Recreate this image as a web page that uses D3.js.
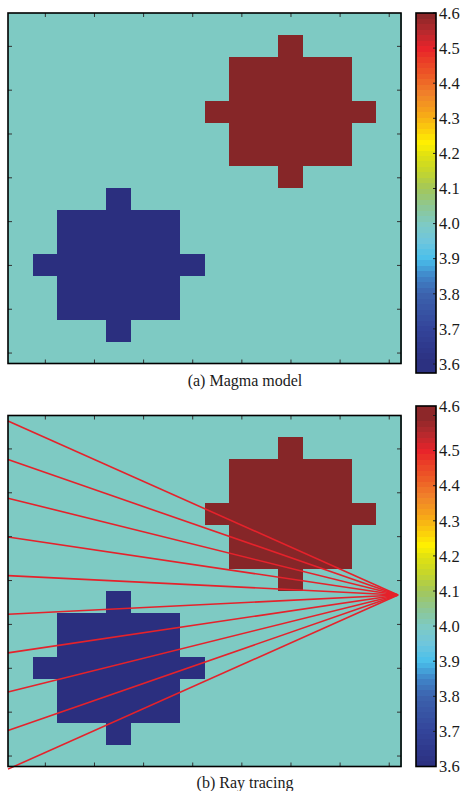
<!DOCTYPE html>
<html>
<head>
<meta charset="utf-8">
<script src="https://cdn.jsdelivr.net/npm/d3@7/dist/d3.min.js"></script>
<style>
  html, body { margin: 0; padding: 0; background: #ffffff; }
  svg { display: block; }
  text { font-family: "Liberation Serif", "Times New Roman", serif; fill: #1a1a1a; }
</style>
</head>
<body>
<svg id="fig" width="463" height="791"></svg>
<script>
// Velocity model on a 16 x 16 grid: '.' background, 'H' fast body, 'L' slow body
const modelRows = [
  "................",
  "...........H....",
  ".........HHHHH..",
  ".........HHHHH..",
  "........HHHHHHH.",
  ".........HHHHH..",
  ".........HHHHH..",
  "...........H....",
  "....L...........",
  "..LLLLL.........",
  "..LLLLL.........",
  ".LLLLLLL........",
  "..LLLLL.........",
  "..LLLLL.........",
  "....L...........",
  "................"
];
const cellValues = { ".": 4.0, "H": 4.6, "L": 3.6 };

// Axis ticks (grid indices) and colour bar ticks
const gridTicks = [2, 4, 6, 8, 10, 12, 14, 16];
const barTicks = [4.6, 4.5, 4.4, 4.3, 4.2, 4.1, 4.0, 3.9, 3.8, 3.7, 3.6];

// Rays: receivers along the left edge, one source at the right
const rayStartX = 0.5;
const rayStartY = [0.75, 2.51, 4.27, 6.04, 7.80, 9.56, 11.32, 13.10, 14.86, 16.62];
const sourcePoint = [16.38, 8.68];

const captions = ["(a) Magma model", "(b) Ray tracing"];

// Colour map stops (value -> colour)
const cmapValues = [3.6, 3.7, 3.8, 3.85, 3.9, 3.95, 4.0, 4.05, 4.1, 4.15, 4.2, 4.23, 4.27, 4.32, 4.37, 4.42, 4.47, 4.5, 4.55, 4.6];
const cmapColors = ["#2b2f7f", "#33449a", "#3c62ad", "#3f84c8", "#49bfeb", "#6fc6dd", "#7ecac3", "#8ec792", "#a3c75a", "#c5d62a", "#e2e210", "#fff200", "#fbcd0c", "#f6a21a", "#f0822a", "#ed5c26", "#ea3a27", "#e8232a", "#b42a2d", "#862628"];

const cmap = d3.scaleLinear().domain(cmapValues).range(cmapColors).clamp(true);

const svg = d3.select("#fig");

// Each colour bar is a little taller than its panel; the end labels sit at the bar ends
const panels = [
  { top: 13, bottom: 363.5, barTop: 13, barBottom: 373, scaleTop: 13, scaleBottom: 364, captionY: 386, rays: false, pinTop: false },
  { top: 415.5, bottom: 766.5, barTop: 406, barBottom: 766.5, scaleTop: 415.5, scaleBottom: 766.5, captionY: 788, rays: true, pinTop: true }
];

const left = 8, right = 401;
const barLeft = 416, barRight = 436;

panels.forEach((p, pi) => {
  const g = svg.append("g");
  const x = d3.scaleLinear().domain([0.5, 16.5]).range([left, right]);
  const y = d3.scaleLinear().domain([0.5, 16.5]).range([p.top, p.bottom]);

  // Model cells
  const cells = [];
  modelRows.forEach((row, r) => {
    row.split("").forEach((ch, c) => cells.push({ col: c + 1, row: r + 1, v: cellValues[ch] }));
  });
  g.append("g").selectAll("rect").data(cells).join("rect")
    .attr("x", d => x(d.col - 0.5))
    .attr("y", d => y(d.row - 0.5))
    .attr("width", d => x(d.col + 0.5) - x(d.col - 0.5) + 0.5)
    .attr("height", d => y(d.row + 0.5) - y(d.row - 0.5) + 0.5)
    .attr("fill", d => cmap(d.v))
    .attr("shape-rendering", "crispEdges");

  // Ray paths
  if (p.rays) {
    g.append("g").selectAll("line").data(rayStartY).join("line")
      .attr("x1", x(rayStartX)).attr("y1", d => y(d))
      .attr("x2", x(sourcePoint[0])).attr("y2", y(sourcePoint[1]))
      .attr("stroke", "#e5222b").attr("stroke-width", 1.6);
  }

  // Inward ticks on all four sides
  const tickLen = 4;
  const tickStyle = sel => {
    sel.select(".domain").remove();
    sel.selectAll(".tick line").attr("stroke", "#333").attr("stroke-width", 1);
    sel.selectAll(".tick text").remove();
  };
  g.append("g").attr("transform", `translate(0,${p.bottom})`)
    .call(d3.axisBottom(x).tickValues(gridTicks).tickSize(-tickLen)).call(tickStyle);
  g.append("g").attr("transform", `translate(0,${p.top})`)
    .call(d3.axisTop(x).tickValues(gridTicks).tickSize(-tickLen)).call(tickStyle);
  g.append("g").attr("transform", `translate(${left},0)`)
    .call(d3.axisLeft(y).tickValues(gridTicks).tickSize(-tickLen)).call(tickStyle);
  g.append("g").attr("transform", `translate(${right},0)`)
    .call(d3.axisRight(y).tickValues(gridTicks).tickSize(-tickLen)).call(tickStyle);

  // Frame
  g.append("rect")
    .attr("x", left).attr("y", p.top)
    .attr("width", right - left).attr("height", p.bottom - p.top)
    .attr("fill", "none").attr("stroke", "#000").attr("stroke-width", 1.6);

  // Colour bar
  const cb = d3.scaleLinear().domain([3.6, 4.6]).range([p.scaleBottom, p.scaleTop]);
  const nBands = 64;
  const step = (4.6 - 3.6) / nBands;
  const bands = d3.range(nBands).map(i => 3.6 + i * step);
  const bg = svg.append("g");
  // extension below/above the mapped range keeps the end colours
  bg.append("rect").attr("x", barLeft).attr("width", barRight - barLeft)
    .attr("y", cb(3.6)).attr("height", Math.max(0, p.barBottom - cb(3.6)))
    .attr("fill", cmap(3.6 + step / 2)).attr("shape-rendering", "crispEdges");
  bg.append("rect").attr("x", barLeft).attr("width", barRight - barLeft)
    .attr("y", p.barTop).attr("height", Math.max(0, cb(4.6) - p.barTop))
    .attr("fill", cmap(4.6 - step / 2)).attr("shape-rendering", "crispEdges");
  bg.selectAll("rect.band").data(bands).join("rect").attr("class", "band")
    .attr("x", barLeft).attr("width", barRight - barLeft)
    .attr("y", d => cb(d + step))
    .attr("height", d => cb(d) - cb(d + step) + 0.4)
    .attr("fill", d => cmap(d + step / 2))
    .attr("shape-rendering", "crispEdges");
  bg.selectAll("line.btick").data(barTicks).join("line").attr("class", "btick")
    .attr("x1", barRight - 3).attr("x2", barRight)
    .attr("y1", d => cb(d)).attr("y2", d => cb(d))
    .attr("stroke", "#222").attr("stroke-width", 1);
  bg.append("rect")
    .attr("x", barLeft).attr("y", p.barTop)
    .attr("width", barRight - barLeft).attr("height", p.barBottom - p.barTop)
    .attr("fill", "none").attr("stroke", "#000").attr("stroke-width", 1.6);
  bg.selectAll("text").data(barTicks).join("text")
    .attr("x", barRight + 3)
    .attr("y", d => (p.pinTop && d === 4.6) ? p.barTop : cb(d))
    .attr("dy", "0.35em")
    .attr("font-size", 16.5)
    .text(d => d.toFixed(1));

  // Caption
  svg.append("text")
    .attr("x", 245).attr("y", p.captionY)
    .attr("text-anchor", "middle")
    .attr("font-size", 16)
    .text(captions[pi]);
});
</script>
</body>
</html>
